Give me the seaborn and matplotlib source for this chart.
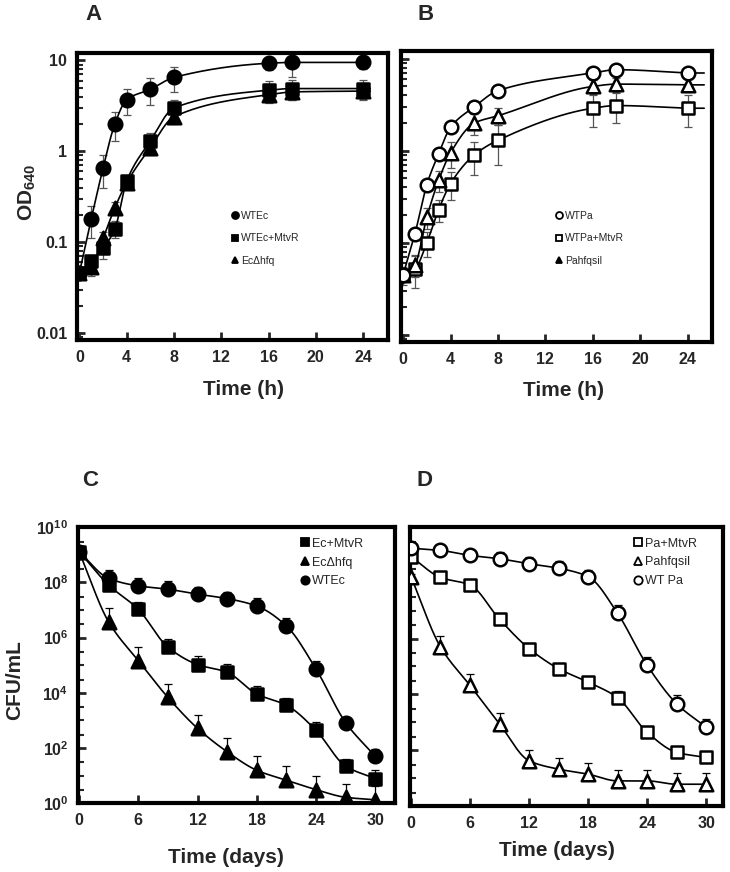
import numpy as np
import pandas as pd
import matplotlib
matplotlib.use("Agg")
import matplotlib.pyplot as plt
import matplotlib.ticker as mticker
from matplotlib.lines import Line2D
import seaborn as sns

sns.set_style("ticks", {"xtick.direction": "in", "ytick.direction": "in"})
plt.rcParams['font.family'] = ['Liberation Sans', 'DejaVu Sans']
plt.rcParams['mathtext.fontset'] = 'custom'
plt.rcParams['mathtext.rm'] = 'Liberation Sans:bold'
plt.rcParams['mathtext.bf'] = 'Liberation Sans:bold'
plt.rcParams['mathtext.default'] = 'bf'

# ---- growth curves (OD640), hours ----
t_hours = [0, 1, 2, 3, 4, 6, 8, 16, 18, 24]
od_wtec = [0.046, 0.18, 0.65, 2.0, 3.7, 4.8, 6.5, 9.3, 9.5, 9.5]
od_wtec_err = [0.005, 0.07, 0.25, 0.7, 1.2, 1.6, 2.0, 1.5, 3.0, 1.5]
od_wtec_mtvr = [0.046, 0.063, 0.086, 0.14, 0.47, 1.3, 3.0, 4.7, 4.9, 4.9]
od_wtec_mtvr_err = [0.005, 0.01, 0.02, 0.03, 0.06, 0.3, 0.7, 1.2, 1.2, 1.2]
od_echfq = [0.046, 0.053, 0.11, 0.24, 0.45, 1.1, 2.4, 4.2, 4.5, 4.6]
od_echfq_err = [0.005, 0.01, 0.02, 0.04, 0.06, 0.2, 0.4, 0.8, 0.8, 0.8]

od_wtpa = [0.045, 0.126, 0.43, 0.93, 1.8, 3.0, 4.5, 7.0, 7.6, 7.0]
od_wtpa_err = [0.005, 0.02, 0.05, 0.1, 0.2, 0.3, 0.4, 0.8, 0.8, 0.8]
od_wtpa_mtvr = [0.045, 0.052, 0.1, 0.23, 0.44, 0.9, 1.3, 2.9, 3.1, 2.9]
od_wtpa_mtvr_err = [0.01, 0.02, 0.03, 0.06, 0.15, 0.35, 0.6, 1.1, 1.1, 1.1]
od_pahfqsil = [0.045, 0.058, 0.19, 0.48, 0.95, 2.0, 2.4, 5.0, 5.3, 5.2]
od_pahfqsil_err = [0.005, 0.015, 0.05, 0.12, 0.3, 0.5, 0.5, 0.9, 0.9, 0.9]

# ---- survival (log10 CFU/mL), days ----
t_days = [0, 3, 6, 9, 12, 15, 18, 21, 24, 27, 30]
log_wtec = [9.11, 8.14, 7.87, 7.75, 7.57, 7.41, 7.14, 6.42, 4.86, 2.92, 1.70]
log_wtec_err = [0.1, 0.3, 0.3, 0.3, 0.25, 0.25, 0.3, 0.3, 0.3, 0.2, 0.25]
log_ec_mtvr = [9.11, 7.90, 7.02, 5.65, 5.02, 4.74, 3.95, 3.55, 2.64, 1.34, 0.89]
log_ec_mtvr_err = [0.1, 0.3, 0.25, 0.3, 0.3, 0.3, 0.3, 0.25, 0.3, 0.25, 0.3]
log_echfq = [9.11, 6.56, 5.16, 3.83, 2.71, 1.86, 1.19, 0.83, 0.49, 0.21, 0.12]
log_echfq_err = [0.1, 0.5, 0.5, 0.5, 0.5, 0.5, 0.5, 0.5, 0.5, 0.5, 0.5]

log_wtpa = [9.24, 9.16, 8.98, 8.86, 8.68, 8.52, 8.22, 6.90, 5.04, 3.66, 2.82]
log_wtpa_err = [0.1, 0.2, 0.2, 0.25, 0.25, 0.25, 0.25, 0.3, 0.3, 0.3, 0.3]
log_pa_mtvr = [8.94, 8.19, 7.92, 6.69, 5.64, 4.92, 4.44, 3.88, 2.64, 1.92, 1.74]
log_pa_mtvr_err = [0.1, 0.1, 0.1, 0.1, 0.1, 0.1, 0.1, 0.25, 0.1, 0.1, 0.1]
log_pahfqsil = [8.22, 5.70, 4.32, 2.94, 1.62, 1.32, 1.14, 0.90, 0.90, 0.78, 0.78]
log_pahfqsil_err = [0.1, 0.4, 0.4, 0.4, 0.4, 0.4, 0.4, 0.4, 0.4, 0.4, 0.4]


def pchip(x, y, xn):
    # monotone cubic through the points (Fritsch-Carlson)
    x = np.asarray(x, float); y = np.asarray(y, float)
    xn = np.clip(xn, x[0], x[-1])
    h = np.diff(x); d = np.diff(y) / h
    m = np.zeros_like(y)
    m[0], m[-1] = d[0], d[-1]
    for k in range(1, len(x) - 1):
        if d[k - 1] * d[k] > 0:
            w1 = 2 * h[k] + h[k - 1]; w2 = h[k] + 2 * h[k - 1]
            m[k] = (w1 + w2) / (w1 / d[k - 1] + w2 / d[k])
    i = np.clip(np.searchsorted(x, xn) - 1, 0, len(x) - 2)
    s = (xn - x[i]) / h[i]
    h00 = 2 * s**3 - 3 * s**2 + 1; h10 = s**3 - 2 * s**2 + s
    h01 = -2 * s**3 + 3 * s**2; h11 = s**3 - s**2
    return h00 * y[i] + h10 * h[i] * m[i] + h01 * y[i + 1] + h11 * h[i] * m[i + 1]


fig = plt.figure(figsize=(7.3, 8.72), dpi=100)
axA = fig.add_axes([0.1055, 0.610, 0.426, 0.329])
axB = fig.add_axes([0.549, 0.608, 0.427, 0.333])
axC = fig.add_axes([0.107, 0.079, 0.434, 0.3165])
axD = fig.add_axes([0.5616, 0.0757, 0.4288, 0.320])


def draw(ax, t, vals, err, marker, filled, tmax, logvals=False):
    t = np.asarray(t, float)
    v = np.asarray(vals, float); e = np.asarray(err, float)
    tn = np.linspace(t[0], tmax, 300)
    if logvals:
        y = 10 ** v
        yerr = [np.zeros_like(y), 10 ** (v + e) - y]
        curve = 10 ** pchip(t, v, tn)
        ecol = 'black'
    else:
        y = v
        yerr = [np.minimum(e, y * 0.6), e]
        curve = 10 ** pchip(t, np.log10(v), tn)
        ecol = '#555555'
    sns.lineplot(x=tn, y=curve, color='black', lw=1.2, ax=ax, zorder=2)
    ax.errorbar(t, y, yerr=yerr, fmt='none', ecolor=ecol, elinewidth=0.9,
                capsize=3, capthick=0.9, zorder=1)
    sns.scatterplot(x=t, y=y, marker=marker, s=95 if marker != 's' else 85,
                    color='black' if filled else 'white', edgecolor='black',
                    linewidth=1.8, ax=ax, zorder=3)


draw(axA, t_hours, od_echfq, od_echfq_err, '^', True, 24.6)
draw(axA, t_hours, od_wtec_mtvr, od_wtec_mtvr_err, 's', True, 24.6)
draw(axA, t_hours, od_wtec, od_wtec_err, 'o', True, 24.6)

draw(axB, t_hours, od_wtpa_mtvr, od_wtpa_mtvr_err, 's', False, 25.4)
draw(axB, t_hours, od_pahfqsil, od_pahfqsil_err, '^', False, 25.4)
draw(axB, t_hours, od_wtpa, od_wtpa_err, 'o', False, 25.4)

draw(axC, t_days, log_echfq, log_echfq_err, '^', True, 30, logvals=True)
draw(axC, t_days, log_ec_mtvr, log_ec_mtvr_err, 's', True, 30, logvals=True)
draw(axC, t_days, log_wtec, log_wtec_err, 'o', True, 30, logvals=True)

draw(axD, t_days, log_pahfqsil, log_pahfqsil_err, '^', False, 30, logvals=True)
draw(axD, t_days, log_pa_mtvr, log_pa_mtvr_err, 's', False, 30, logvals=True)
draw(axD, t_days, log_wtpa, log_wtpa_err, 'o', False, 30, logvals=True)

for ax in (axA, axB):
    ax.set_yscale('log')
    ax.set_xlim(-0.2, 26.1)
    ax.set_ylim(0.0084, 12)
    ax.set_xticks([0, 4, 8, 12, 16, 20, 24])
    ax.yaxis.set_major_locator(mticker.FixedLocator([0.01, 0.1, 1, 10]))
    ax.yaxis.set_minor_locator(mticker.LogLocator(base=10, subs=np.arange(2, 10)))
    ax.yaxis.set_minor_formatter(mticker.NullFormatter())
    ax.set_xlabel('Time (h)', fontsize=15, fontweight='bold')
    ax.xaxis.label.set_va('center')
axA.yaxis.set_major_formatter(mticker.FixedFormatter(['0.01', '0.1', '1', '10']))
axB.yaxis.set_major_formatter(mticker.NullFormatter())
axA.xaxis.set_label_coords(0.534, -0.174)
axB.xaxis.set_label_coords(0.522, -0.166)

for ax in (axC, axD):
    ax.set_yscale('log')
    ax.set_ylim(1, 1e10)
    ax.set_xticks([0, 6, 12, 18, 24, 30])
    ax.yaxis.set_major_locator(mticker.FixedLocator([1, 1e2, 1e4, 1e6, 1e8, 1e10]))
    ax.yaxis.set_minor_locator(mticker.LogLocator(base=10, subs=(1.0, 3.0), numticks=30))
    ax.yaxis.set_minor_formatter(mticker.NullFormatter())
    ax.set_xlabel('Time (days)', fontsize=15, fontweight='bold')
    ax.xaxis.label.set_va('center')
axC.set_xlim(-0.1, 32)
axD.set_xlim(-0.1, 31.7)
axC.yaxis.set_major_formatter(mticker.FixedFormatter(
    [r'$10^{0}$', r'$10^{2}$', r'$10^{4}$', r'$10^{6}$', r'$10^{8}$', r'$10^{10}$']))
axD.yaxis.set_major_formatter(mticker.NullFormatter())
axC.xaxis.set_label_coords(0.467, -0.196)
axD.xaxis.set_label_coords(0.47, -0.158)

axA.set_ylabel(r'OD$_{640}$', fontsize=15, fontweight='bold', va='center')
axA.yaxis.set_label_coords(-0.161, 0.516)
axC.set_ylabel('CFU/mL', fontsize=15, fontweight='bold', va='center')
axC.yaxis.set_label_coords(-0.199, 0.446)

for ax in (axA, axB, axC, axD):
    for sp in ax.spines.values():
        sp.set_visible(True)
        sp.set_linewidth(3)
        sp.set_color('black')
    ax.tick_params(which='major', direction='in', length=6, width=2, pad=7,
                   labelsize=11.5)
    ax.tick_params(which='minor', direction='in', length=4, width=1.5)
    for lab in ax.get_xticklabels() + ax.get_yticklabels():
        lab.set_fontweight('bold')
    ax.grid(False)


def legend(ax, items, anchor, size, spacing):
    handles = [Line2D([], [], marker=m, ls='none', markersize=ms,
                      markerfacecolor='black' if f else 'white',
                      markeredgecolor='black', markeredgewidth=1.3)
               for _, m, f, ms in items]
    ax.legend(handles, [i[0] for i in items], loc='upper left',
              bbox_to_anchor=anchor, frameon=False, fontsize=size,
              handlelength=0.6, handletextpad=0.25, labelspacing=spacing,
              borderaxespad=0)


legend(axA, [('WTEc', 'o', True, 5), ('WTEc+MtvR', 's', True, 5),
             ('EcΔhfq', '^', True, 5)], (0.485, 0.465), 7.5, 1.2)
legend(axB, [('WTPa', 'o', False, 5), ('WTPa+MtvR', 's', False, 5),
             ('Pahfqsil', '^', True, 5)], (0.485, 0.465), 7.5, 1.2)
legend(axC, [('Ec+MtvR', 's', True, 6), ('EcΔhfq', '^', True, 6),
             ('WTEc', 'o', True, 6)], (0.69, 0.98), 9, 0.55)
legend(axD, [('Pa+MtvR', 's', False, 6), ('Pahfqsil', '^', False, 6),
             ('WT Pa', 'o', False, 6)], (0.70, 0.98), 9, 0.55)

for letter, x, y in [('A', 93, 14), ('B', 426, 14), ('C', 90, 480), ('D', 425, 480)]:
    fig.text(x / 730, 1 - y / 872, letter, fontsize=16, fontweight='bold',
             ha='center', va='center')

plt.savefig('out.png', dpi=100)
